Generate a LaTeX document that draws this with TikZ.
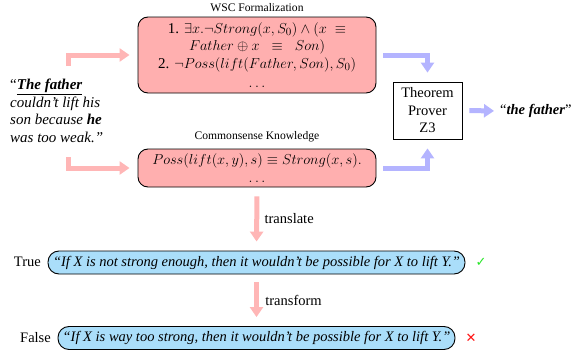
\documentclass[tikz,border=0pt]{standalone}
\usepackage{fontspec}
\setmainfont{Liberation Serif}
\newfontfamily\symfont{DejaVu Sans}
\usetikzlibrary{arrows.meta}
\definecolor{boxpink}{RGB}{255,175,175}
\definecolor{arrpink}{RGB}{255,182,182}
\definecolor{arrblue}{RGB}{180,180,255}
\definecolor{pillblue}{RGB}{170,222,250}
\definecolor{okgreen}{RGB}{40,230,40}
\definecolor{badred}{RGB}{255,20,20}
\tikzset{
  mainfont/.style={font=\fontsize{14.5}{17.5}\selectfont},
  labelfont/.style={font=\fontsize{11.6}{13}\selectfont},
  pinkbox/.style={draw, line width=0.9pt, fill=boxpink, rounded corners=10pt,
    minimum width=238pt, align=center, inner sep=2pt, font=\fontsize{15}{17.5}\selectfont},
  pill/.style={draw, line width=0.9pt, fill=pillblue, rounded corners=11pt,
    minimum height=23pt, inner sep=3pt, font=\fontsize{14.5}{17.5}\selectfont\itshape},
  pinkarr/.style={draw=arrpink, line width=5pt, -{Triangle[width=13pt,length=10pt]}},
  bluearr/.style={draw=arrblue, line width=5pt, -{Triangle[width=13pt,length=10pt]}},
}
\begin{document}
\begin{tikzpicture}[x=1pt,y=-1pt]
\useasboundingbox (0,0) rectangle (574,356);
% labels
\node[labelfont] (wsclabel) at (257,8) {WSC Formalization};
\node[labelfont] (cklabel) at (257,137) {Commonsense Knowledge};
% WSC box
\node[pinkbox, minimum height=76pt] (wsc) at (257,55)
  {1. $\exists x.\neg Strong(x,S_0)\wedge (x\;\equiv$\\
   $Father\oplus x\;\;\equiv\;\; Son)$\\
   2. $\neg Poss(lift(Father,Son),S_0)$\\[2pt]
   $\ldots$};
% CK box
\node[pinkbox, minimum height=38pt] (ck) at (257,168)
  {$Poss(lift(x,y),s)\equiv Strong(x,s).$\\[1pt] $\ldots$};
% quote
\node[font=\fontsize{15}{17.5}\selectfont, align=left, anchor=west, inner sep=0pt] (quote) at (10,111)
  {``\textbf{\textit{\underline{The father}}}\\
   \textit{couldn't lift his}\\
   \textit{son because \textbf{he}}\\
   \textit{was too weak.''}};
% prover
\node[draw, line width=0.8pt, mainfont, align=center, minimum width=69pt,
  minimum height=57pt, inner sep=2pt] (prover) at (427.5,110.5)
  {Theorem\\Prover\\Z3};
\node[mainfont, anchor=west, inner sep=0pt] (answer) at (500,111)
  {``\textbf{\textit{the father}}''};
% pills
\node[mainfont, anchor=east, inner sep=0pt] (truelab) at (41,262) {True};
\node[pill, minimum width=417pt] (truepill) at (256.5,262.5)
  {``If X is not strong enough, then it wouldn't be possible for X to lift Y.''};
\node[font=\symfont\fontsize{13}{15}\selectfont, text=okgreen] (check) at (481,262) {✓};
\node[mainfont, anchor=east, inner sep=0pt] (falselab) at (51,338) {False};
\node[pill, minimum width=397pt] (falsepill) at (256.5,338)
  {``If X is way too strong, then it wouldn't be possible for X to lift Y.''};
\node[font=\symfont\fontsize{13}{15}\selectfont, text=badred] (cross) at (471,338) {✕};
% arrows
\coordinate (qtop) at (68,66);
\coordinate (qbot) at (68,157);
\draw[pinkarr, shorten >=8pt] (qtop) |- (wsc.west);
\draw[pinkarr, shorten >=8pt] (qbot) |- (ck.west);
\draw[bluearr, shorten <=7pt, shorten >=9pt] (wsc.east) -| (prover.north);
\draw[bluearr, shorten <=7pt, shorten >=9pt] (ck.east) -| (prover.south);
\draw[bluearr, shorten <=7pt, shorten >=6pt] (prover.east) -- (answer.west);
\draw[pinkarr, shorten <=9pt, shorten >=9pt] (ck.south) -- node[right, xshift=2pt, mainfont, text=black] (tlabel) {translate} (truepill.north);
\draw[pinkarr, shorten <=8pt, shorten >=9pt] (truepill.south) -- node[right, xshift=3pt, mainfont, text=black] (flabel) {transform} (falsepill.north);
\end{tikzpicture}
\end{document}
